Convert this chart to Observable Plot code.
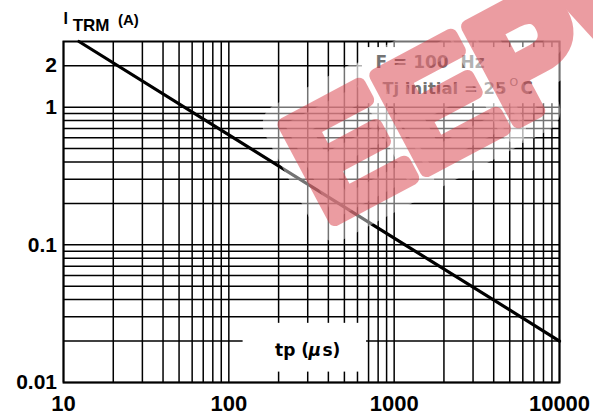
<!DOCTYPE html>
<html><head><meta charset="utf-8">
<script src="https://cdn.jsdelivr.net/npm/d3@7"></script>
<script src="https://cdn.jsdelivr.net/npm/@observablehq/plot@0.6"></script>
<style>body{margin:0;background:#fff}</style>
</head><body><div id="chart"></div>
<script>
// Series: pulse duration tp (µs) vs I_TRM (A)
const tp = [12.4, 100, 1000, 10000];
const itrm = [3.0, 0.63, 0.112, 0.02];
// grid lines (log decades)
const xGrid = [10,20,30,40,50,60,70,80,90,100,200,300,400,500,600,700,800,900,1000,2000,3000,4000,5000,6000,7000,8000,9000,10000];
const yGrid = [0.01,0.02,0.03,0.04,0.05,0.06,0.07,0.08,0.09,0.1,0.2,0.3,0.4,0.5,0.6,0.7,0.8,0.9,1,2];
const xTicks = [10, 100, 1000, 10000];
const yTicks = [0.01, 0.1, 1, 2];
const watermark = ["EEPW"];

const data = tp.map((t, i) => ({tp: t, i: itrm[i]}));
const sans = "Liberation Sans, Arial, sans-serif";
const dj = "DejaVu Sans, sans-serif";
const wm = {x: () => 385, y: () => 0.142, rotate: -28, textAnchor: "start", lineAnchor: "bottom",
  fontFamily: sans, fontWeight: "bold", fontSize: 156, strokeLinejoin: "round"};

const chart = Plot.plot({
  width: 593,
  height: 415,
  marginLeft: 63,
  marginRight: 34,
  marginTop: 41,
  marginBottom: 33,
  style: {background: "#fff", fontFamily: sans},
  x: {type: "log", domain: [10, 10000], axis: null},
  y: {type: "log", domain: [0.01, 3], axis: null},
  marks: [
    Plot.ruleX(xGrid, {x: d => d, stroke: "#000", strokeWidth: 1.5}),
    Plot.ruleY(yGrid, {y: d => d, stroke: "#000", strokeWidth: 1.5}),
    // blank areas behind the in-plot labels
    Plot.rect([0], {x1: () => 643, x2: () => 10000, y1: () => 1.06, y2: () => 2.71, fill: "#fff"}),
    Plot.rect([0], {x1: () => 122, x2: () => 681, y1: () => 0.0119, y2: () => 0.0269, fill: "#fff"}),
    Plot.frame({stroke: "#000", strokeWidth: 2}),
    Plot.line(data, {x: "tp", y: "i", stroke: "#000", strokeWidth: 3.2}),
    // annotations
    Plot.text(["F = 100\u00a0 Hz"], {frameAnchor: "top-right", textAnchor: "start", lineAnchor: "bottom", dx: -184, dy: 26.3, fontFamily: dj, fontWeight: "bold", fontSize: 17, fill: "#000"}),
    Plot.text(["Tj initial = 25"], {frameAnchor: "top-right", textAnchor: "start", lineAnchor: "bottom", dx: -177.3, dy: 52.3, fontFamily: dj, fontWeight: "bold", fontSize: 16.5, fill: "#000"}),
    Plot.text(["O"], {frameAnchor: "top-right", textAnchor: "start", lineAnchor: "bottom", dx: -50, dy: 44, fontFamily: dj, fontSize: 11, fill: "#000"}),
    Plot.text(["C"], {frameAnchor: "top-right", textAnchor: "start", lineAnchor: "bottom", dx: -39, dy: 52.3, fontFamily: dj, fontWeight: "bold", fontSize: 17, fill: "#000"}),
    Plot.text(["tp ("], {frameAnchor: "bottom-left", textAnchor: "start", lineAnchor: "bottom", dx: 211.5, dy: -27, fontFamily: dj, fontWeight: "bold", fontSize: 17, fill: "#000"}),
    Plot.text(["\u00b5"], {frameAnchor: "bottom-left", textAnchor: "start", lineAnchor: "bottom", dx: 245, dy: -27, fontFamily: dj, fontWeight: "bold", fontStyle: "italic", fontSize: 17, fill: "#000"}),
    Plot.text(["s)"], {frameAnchor: "bottom-left", textAnchor: "start", lineAnchor: "bottom", dx: 259, dy: -27, fontFamily: dj, fontWeight: "bold", fontSize: 17, fill: "#000"}),
    // watermark: soft white halo, then thick translucent red letters
    Plot.text(watermark, {...wm, fill: "#fff", fillOpacity: 0.35, stroke: "#fff", strokeOpacity: 0.45, strokeWidth: 44}),
    Plot.text(watermark, {...wm, fill: "#d83c46", stroke: "#d83c46", strokeWidth: 14, opacity: 0.5}),
    // tick labels
    Plot.text(xTicks, {x: d => d, text: d => String(d), frameAnchor: "bottom", dy: 21, lineAnchor: "middle", fontFamily: sans, fontWeight: "bold", fontSize: 22, fill: "#000"}),
    Plot.text(yTicks, {y: d => d, text: d => String(d), frameAnchor: "left", dx: -6.5, textAnchor: "end", lineAnchor: "middle", fontFamily: sans, fontWeight: "bold", fontSize: 21, fill: "#000"}),
    // axis title
    Plot.text(["I"], {frameAnchor: "top-left", textAnchor: "start", lineAnchor: "bottom", dx: 0, dy: -17.7, fontFamily: sans, fontWeight: "bold", fontSize: 16, fill: "#000"}),
    Plot.text(["TRM"], {frameAnchor: "top-left", textAnchor: "start", lineAnchor: "bottom", dx: 9.2, dy: -10.3, fontFamily: sans, fontWeight: "bold", fontSize: 17, fill: "#000"}),
    Plot.text(["(A)"], {frameAnchor: "top-left", textAnchor: "start", lineAnchor: "bottom", dx: 54.5, dy: -17, fontFamily: sans, fontWeight: "bold", fontSize: 15, fill: "#000"})
  ]
});
document.getElementById("chart").appendChild(chart);
</script>
</body></html>
